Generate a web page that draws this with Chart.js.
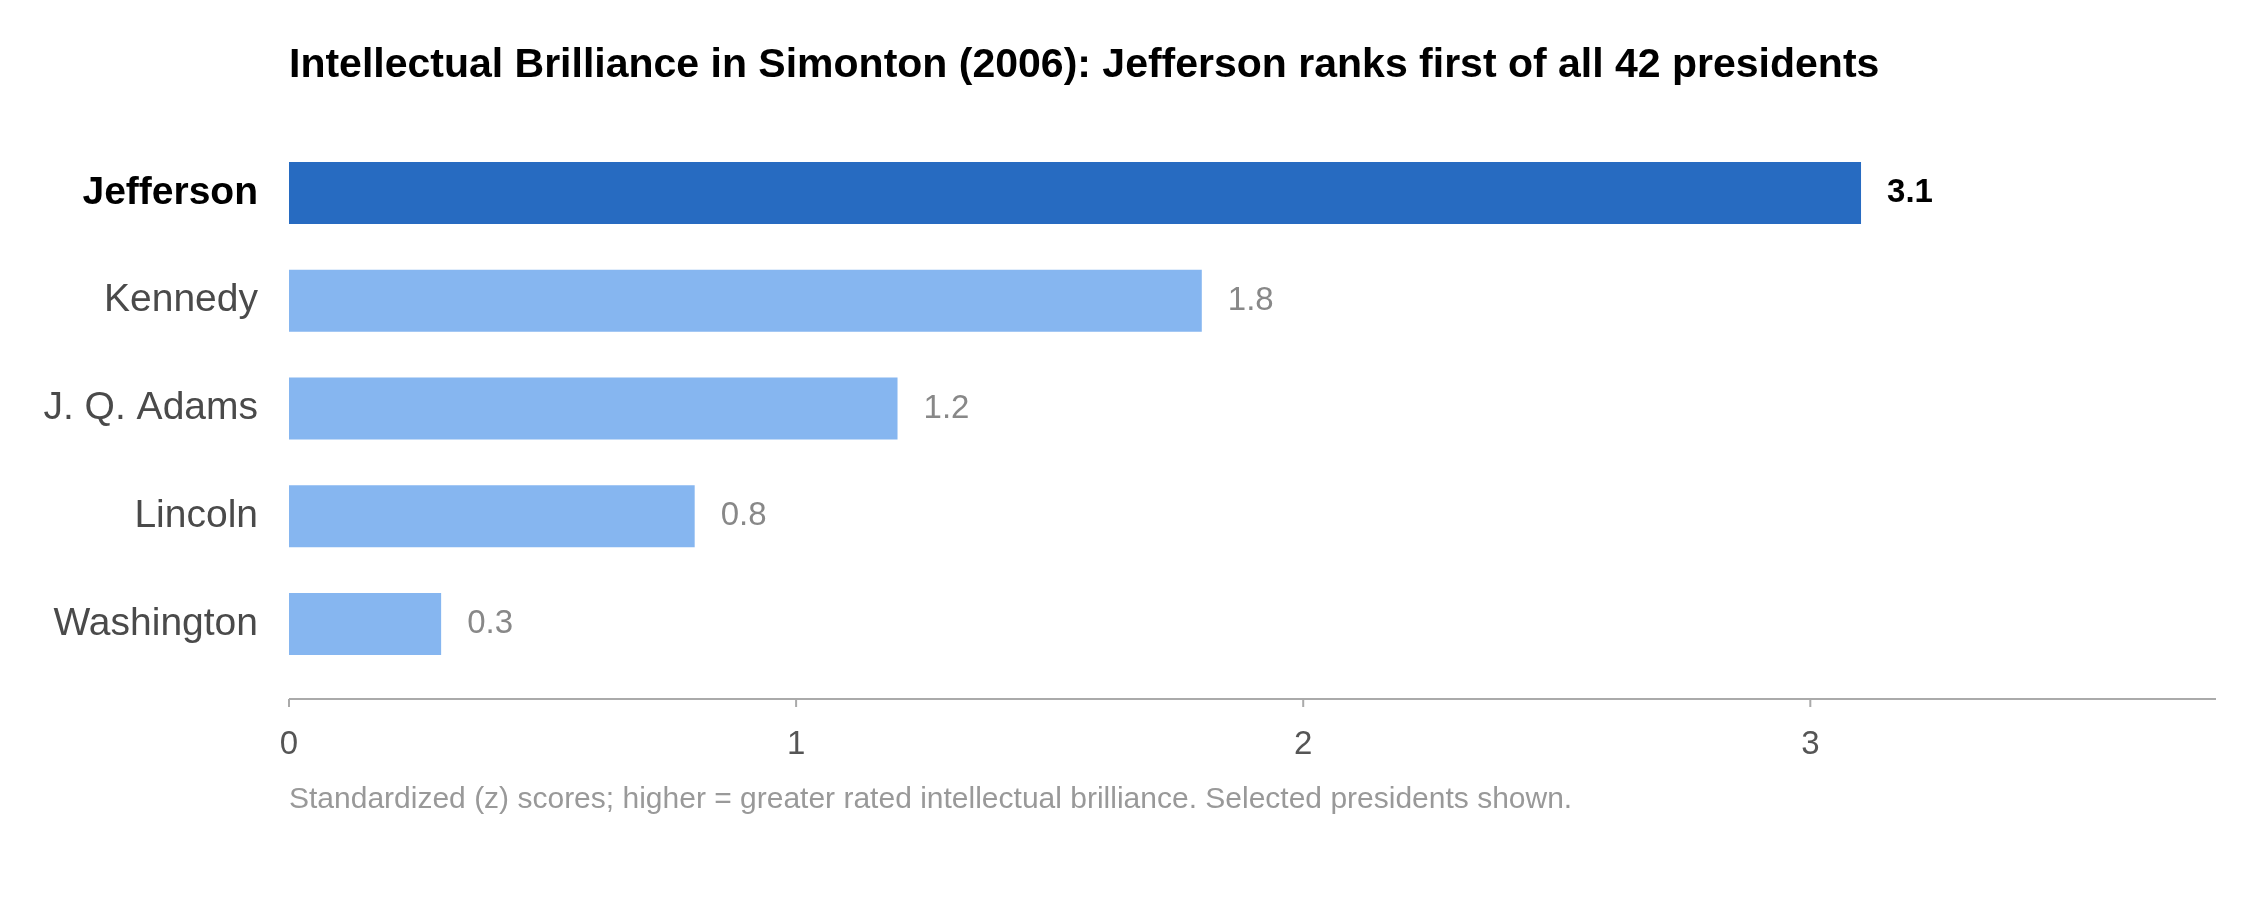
<!DOCTYPE html>
<html>
<head>
<meta charset="utf-8">
<script src="https://cdn.jsdelivr.net/npm/chart.js@4"></script>
<style>
  html, body { margin: 0; background: #fff; }
  #wrap { width: 2256px; height: 920px; }
</style>
</head>
<body>
<div id="wrap"><canvas id="c"></canvas></div>
<script>
const presidents = ['Jefferson', 'Kennedy', 'J. Q. Adams', 'Lincoln', 'Washington'];
const scores = [3.1, 1.8, 1.2, 0.8, 0.3];
const xTicks = [0, 1, 2, 3];
const titleText = 'Intellectual Brilliance in Simonton (2006): Jefferson ranks first of all 42 presidents';
const noteText = 'Standardized (z) scores; higher = greater rated intellectual brilliance. Selected presidents shown.';

const FONT = '"Liberation Sans", Arial, sans-serif';

// title, footnote, value labels, axis line
const extras = {
    id: 'extras',
    afterDraw(chart) {
        const c = chart.ctx, a = chart.chartArea;
        const xs = chart.scales.x;
        c.save();
        c.textBaseline = 'middle';
        c.fillStyle = '#000';
        c.font = 'bold 41px ' + FONT;
        c.textAlign = 'left';
        c.fillText(titleText, a.left, 66);

        // axis line + ticks
        const axisY = a.bottom + 21;
        c.strokeStyle = '#aaa';
        c.lineWidth = 2;
        c.beginPath();
        c.moveTo(a.left, axisY);
        c.lineTo(a.right, axisY);
        xTicks.forEach(t => {
            const px = xs.getPixelForValue(t);
            c.moveTo(px, axisY);
            c.lineTo(px, axisY + 8);
        });
        c.stroke();

        // values
        const meta = chart.getDatasetMeta(0);
        meta.data.forEach((bar, i) => {
            c.font = (i === 0 ? 'bold ' : '') + '33px ' + FONT;
            c.fillStyle = i === 0 ? '#000' : '#888';
            c.fillText(scores[i].toFixed(1), bar.x + 26, bar.y);
        });

        c.font = '30px ' + FONT;
        c.fillStyle = '#999';
        c.fillText(noteText, a.left, 800);
        c.restore();
    }
};

new Chart(document.getElementById('c'), {
    type: 'bar',
    data: {
        labels: presidents,
        datasets: [{
            data: scores,
            backgroundColor: scores.map((v, i) => i === 0 ? '#276BC1' : '#86B6F0'),
            barPercentage: 0.575,
            categoryPercentage: 1
        }]
    },
    options: {
        indexAxis: 'y',
        animation: false,
        responsive: true,
        maintainAspectRatio: false,
        layout: { padding: { top: 139, right: 40, bottom: 164, left: 0 } },
        plugins: { legend: { display: false }, tooltip: { enabled: false } },
        scales: {
            x: {
                min: 0,
                max: 3.8,
                afterBuildTicks(s) { s.ticks = xTicks.map(v => ({ value: v })); },
                afterFit(s) { s.height = 78; },
                grid: { display: false, drawTicks: false },
                border: { display: false },
                ticks: { padding: 47, color: '#555', font: { size: 33, family: FONT } }
            },
            y: {
                afterFit(s) { s.width = 289; },
                grid: { display: false, drawTicks: false },
                border: { display: false },
                ticks: {
                    padding: 31,
                    color: ctx => ctx.index === 0 ? '#000' : '#4a4a4a',
                    font: ctx => ({ size: 39, family: FONT, weight: ctx.index === 0 ? 'bold' : 'normal' })
                }
            }
        }
    },
    plugins: [extras]
});
</script>
</body>
</html>
